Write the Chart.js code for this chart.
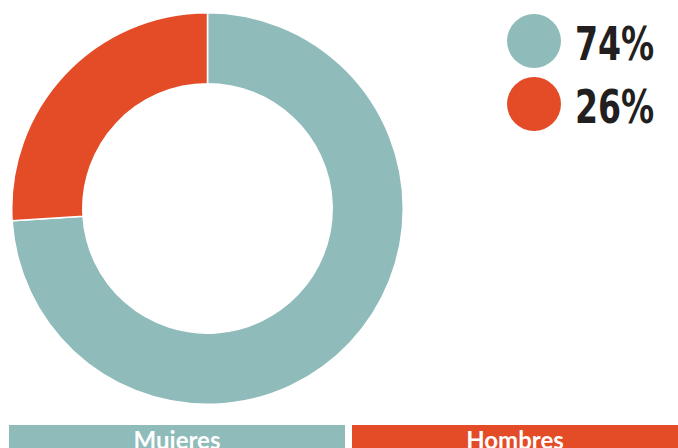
<!DOCTYPE html>
<html>
<head>
<meta charset="utf-8">
<script src="https://cdn.jsdelivr.net/npm/chart.js@4"></script>
<style>
  html, body { margin: 0; padding: 0; background: #fff; }
  body { width: 678px; height: 448px; position: relative; overflow: hidden; }
  #wrap { position: absolute; left: 11px; top: 12px; width: 393px; height: 393px; }
  #legend { position: absolute; left: 507px; top: 9px; }
  .item { display: flex; align-items: center; height: 63px; }
  .dot { width: 54px; height: 54px; border-radius: 50%; margin-right: 14px; }
  .val { font-family: "DejaVu Sans Condensed", sans-serif; font-weight: bold; font-size: 46px; color: #231f20;
         display: inline-block; transform: scaleX(0.8); transform-origin: left center; margin-top: 6px; }
  #bars { position: absolute; left: 9px; top: 425px; width: 669px; height: 23px; }
  .bar { position: absolute; top: 0; height: 30px; color: #fff; text-align: center;
         font-family: Lato, sans-serif; font-weight: bold; font-size: 24px; line-height: 30px; }
</style>
</head>
<body>
<div id="wrap"><canvas id="donutChart"></canvas></div>
<div id="legend"></div>
<div id="bars"></div>
<script>
// Gender split
const labels = ['Mujeres', 'Hombres'];
const values = [74, 26];
const colors = ['#8fbbba', '#e34c27'];

new Chart(document.getElementById('donutChart'), {
    type: 'doughnut',
    data: {
        labels: labels,
        datasets: [{ data: values, backgroundColor: colors, borderColor: '#fff', borderWidth: 1.5 }]
    },
    options: {
        responsive: true,
        maintainAspectRatio: false,
        animation: false,
        cutout: '63.7%',
        plugins: { legend: { display: false }, tooltip: { enabled: false } },
        layout: { padding: 0 }
    }
});

// legend with percentages
const legend = document.getElementById('legend');
values.forEach((v, i) => {
    const row = document.createElement('div');
    row.className = 'item';
    row.innerHTML = '<div class="dot" style="background:' + colors[i] + '"></div><span class="val">' + v + '%</span>';
    legend.appendChild(row);
});

// category bars at the bottom
const bars = document.getElementById('bars');
const lefts = [0, 343];
const widths = [336, 326];
labels.forEach((l, i) => {
    const b = document.createElement('div');
    b.className = 'bar';
    b.style.left = lefts[i] + 'px';
    b.style.width = widths[i] + 'px';
    b.style.background = colors[i];
    b.textContent = l;
    bars.appendChild(b);
});
</script>
</body>
</html>
